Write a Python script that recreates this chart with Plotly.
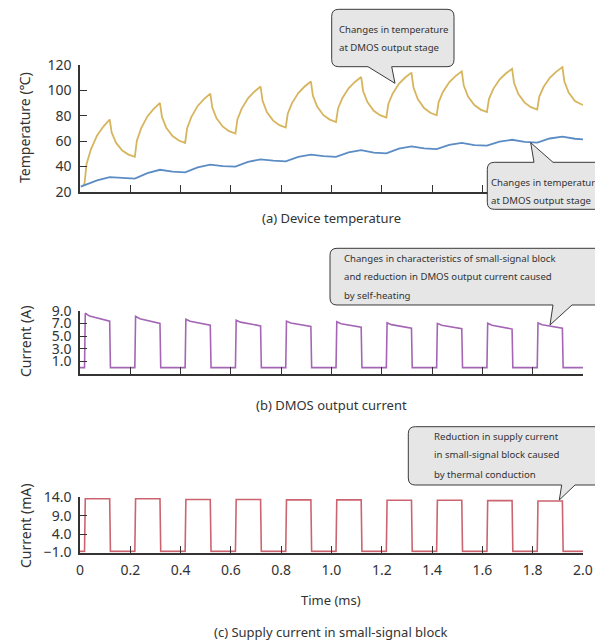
import plotly.graph_objects as go

# page is placed with an 8px body margin; the figure fills the rest of the 603x642 window
OFF = 8
W, H = 603 - OFF, 642 - OFF
FONT = "Noto Sans"
INK = "#333333"

# ---------------- data ----------------
# (a) device temperature (deg C) vs time (ms)
dmos_time = [0.013,
    0.018, 0.026, 0.043, 0.068, 0.093, 0.118, 0.126, 0.143, 0.168, 0.193,
    0.218, 0.226, 0.243, 0.268, 0.293, 0.318, 0.326, 0.343, 0.368, 0.393,
    0.418, 0.426, 0.443, 0.468, 0.493, 0.518, 0.526, 0.543, 0.568, 0.593,
    0.618, 0.626, 0.643, 0.668, 0.693, 0.718, 0.726, 0.743, 0.768, 0.793,
    0.818, 0.826, 0.843, 0.868, 0.893, 0.918, 0.926, 0.943, 0.968, 0.993,
    1.018, 1.026, 1.043, 1.068, 1.093, 1.118, 1.126, 1.143, 1.168, 1.193,
    1.218, 1.226, 1.243, 1.268, 1.293, 1.318, 1.326, 1.343, 1.368, 1.393,
    1.418, 1.426, 1.443, 1.468, 1.493, 1.518, 1.526, 1.543, 1.568, 1.593,
    1.618, 1.626, 1.643, 1.668, 1.693, 1.718, 1.726, 1.743, 1.768, 1.793,
    1.818, 1.826, 1.843, 1.868, 1.893, 1.918, 1.926, 1.943, 1.968, 1.993, 2.0]
dmos_temp = [25.3,
    26.5, 41.7, 53.3, 64.4, 71.4, 77.0, 66.7, 58.7, 52.5, 49.3,
    47.5, 60.3, 70.0, 79.4, 85.3, 90.0, 79.0, 70.5, 63.9, 60.4,
    58.5, 70.2, 79.1, 87.7, 93.1, 97.4, 86.4, 77.9, 71.3, 67.8,
    65.9, 77.0, 85.6, 93.7, 98.9, 103.0, 91.7, 82.9, 76.1, 72.5,
    70.6, 81.5, 89.9, 97.9, 103.0, 107.0, 95.8, 87.2, 80.4, 76.9,
    75.0, 85.7, 93.8, 101.6, 106.6, 110.5, 99.3, 90.7, 83.9, 80.4,
    78.5, 89.2, 97.3, 105.1, 110.1, 114.0, 102.2, 93.1, 86.0, 82.3,
    80.3, 90.7, 98.7, 106.3, 111.2, 115.0, 103.8, 95.1, 88.4, 84.8,
    82.9, 93.1, 101.0, 108.5, 113.3, 117.0, 105.7, 97.0, 90.3, 86.7,
    84.8, 94.9, 102.6, 109.9, 114.6, 118.3, 107.0, 98.3, 91.5, 89.0, 88.5]

small_time = [0.003, 0.018, 0.068, 0.118, 0.168, 0.218, 0.268, 0.318, 0.368, 0.418,
    0.468, 0.518, 0.568, 0.618, 0.668, 0.718, 0.768, 0.818, 0.868, 0.918,
    0.968, 1.018, 1.068, 1.118, 1.168, 1.218, 1.268, 1.318, 1.368, 1.418,
    1.468, 1.518, 1.568, 1.618, 1.668, 1.718, 1.768, 1.818, 1.868, 1.918,
    1.968, 2.0]
small_temp = [24.0, 25.3, 29.0, 31.5, 30.7, 30.3, 34.6, 37.3, 35.8, 35.3,
    39.2, 41.3, 40.2, 39.8, 43.6, 45.5, 44.5, 44.0, 47.5, 49.3,
    48.0, 47.5, 51.0, 52.8, 50.9, 50.3, 54.0, 55.8, 54.2, 53.6,
    57.0, 58.5, 56.8, 56.3, 59.6, 61.0, 59.3, 58.7, 62.0, 63.5,
    61.8, 61.3]

# pulse timing (ms)
pulse_rise = [0.018, 0.218, 0.418, 0.618, 0.818, 1.018, 1.218, 1.418, 1.618, 1.818]
pulse_fall = [0.118, 0.318, 0.518, 0.718, 0.918, 1.118, 1.318, 1.518, 1.718, 1.918]

# (b) DMOS output current (A)
dmos_low = 0.0
dmos_start = [8.6, 8.1, 7.65, 7.5, 7.35, 7.25, 7.1, 7.0, 7.0, 7.05]
dmos_knee = [8.15, 7.72, 7.32, 7.19, 7.05, 6.95, 6.8, 6.7, 6.69, 6.77]
dmos_end = [7.35, 7.0, 6.7, 6.6, 6.5, 6.4, 6.25, 6.15, 6.1, 6.25]

# (c) supply current in small-signal block (mA)
supply_low = -0.7
supply_high = [13.6, 13.6, 13.4, 13.4, 13.3, 13.3, 13.2, 13.2, 13.1, 13.0]

x_ticks = [0, 0.2, 0.4, 0.6, 0.8, 1.0, 1.2, 1.4, 1.6, 1.8, 2.0]
x_ticktext = ["0", "0.2", "0.4", "0.6", "0.8", "1.0", "1.2", "1.4", "1.6", "1.8", "2.0"]
temp_ticks = [20, 40, 60, 80, 100, 120]
amp_ticks = [1, 3, 5, 7, 9]
ma_ticks = [-1, 4, 9, 14]

# ---------------- build square-wave traces ----------------
EDGE = 0.003
bx, by = [0.0], [dmos_low]
for r, f, s, k, e in zip(pulse_rise, pulse_fall, dmos_start, dmos_knee, dmos_end):
    bx += [r, r + EDGE, r + 0.02, f, f + EDGE]
    by += [dmos_low, s, k, e, dmos_low]
bx.append(2.0); by.append(dmos_low)

cx, cy = [0.0], [supply_low]
for r, f, hgt in zip(pulse_rise, pulse_fall, supply_high):
    cx += [r, r + EDGE, f, f + EDGE]
    cy += [supply_low, hgt, hgt, supply_low]
cx.append(2.0); cy.append(supply_low)


def px(x):
    return (x - OFF) / W


def py(y):
    return 1 - (y - OFF) / H


fig = go.Figure()
fig.add_trace(go.Scatter(x=dmos_time, y=dmos_temp, mode="lines",
                         line=dict(color="#d6b55e", width=1.8), xaxis="x", yaxis="y"))
fig.add_trace(go.Scatter(x=small_time, y=small_temp, mode="lines",
                         line=dict(color="#5b8cc4", width=1.8), xaxis="x", yaxis="y"))
fig.add_trace(go.Scatter(x=bx, y=by, mode="lines",
                         line=dict(color="#a466b4", width=1.6), xaxis="x2", yaxis="y2"))
fig.add_trace(go.Scatter(x=cx, y=cy, mode="lines",
                         line=dict(color="#cc6470", width=1.6), xaxis="x3", yaxis="y3"))

XD = [px(80), px(583)]
axis_common = dict(showline=True, linecolor=INK, linewidth=1.5, ticks="inside",
                   ticklen=7, tickwidth=1.2, tickcolor=INK, showgrid=False,
                   zeroline=False, automargin=False,
                   tickfont=dict(family=FONT, size=14, color=INK))

fig.update_layout(
    width=W, height=H, margin=dict(l=0, r=0, t=0, b=0, autoexpand=False),
    paper_bgcolor="white", plot_bgcolor="white", showlegend=False,
    font=dict(family=FONT, color=INK),
    xaxis=dict(domain=XD, anchor="y", range=[0, 2], tickvals=x_ticks[1:],
               showticklabels=False, **axis_common),
    yaxis=dict(domain=[py(191.7), py(65)], anchor="x", range=[20, 120],
               tickvals=temp_ticks, ticklabelstandoff=4, **axis_common),
    xaxis2=dict(domain=XD, anchor="y2", range=[0, 2], tickvals=x_ticks[1:],
                showticklabels=False, **axis_common),
    yaxis2=dict(domain=[py(374), py(310.7)], anchor="x2", range=[-1, 9],
                tickvals=amp_ticks, tickformat=".1f", ticklabelstandoff=4, **axis_common),
    xaxis3=dict(domain=XD, anchor="y3", range=[0, 2], tickvals=x_ticks,
                ticktext=x_ticktext, ticklabelstandoff=4, **axis_common),
    yaxis3=dict(domain=[py(552.5), py(497.3)], anchor="x3", range=[-1, 14],
                tickvals=ma_ticks, tickformat=".1f", ticklabelstandoff=4, **axis_common),
)

annotations = []


def label(text, x, y, size, angle=0, xanchor="center"):
    annotations.append(dict(text=text, x=px(x), y=py(y), xref="paper", yref="paper",
                            showarrow=False, xanchor=xanchor, yanchor="middle",
                            textangle=angle, font=dict(family=FONT, size=size, color=INK)))


label("Temperature (℃)", 25, 128, 14, -90)
label("Current (A)", 25, 342, 14, -90)
label("Current (mA)", 25, 526, 14, -90)
label("(a) Device temperature", 331, 218, 13)
label("(b) DMOS output current", 331, 405, 13)
label("Time (ms)", 331, 600, 13)
label("(c) Supply current in small-signal block", 331, 632, 13)


def callout_path(x0, y0, x1, y1, r, side, a, b, tx, ty):
    P = lambda x, y: f"{px(x):.5f},{py(y):.5f}"
    d = f"M {P(x0 + r, y0)} "
    if side == "top":
        d += f"L {P(a, y0)} L {P(tx, ty)} L {P(b, y0)} "
    d += f"L {P(x1 - r, y0)} Q {P(x1, y0)} {P(x1, y0 + r)} "
    d += f"L {P(x1, y1 - r)} Q {P(x1, y1)} {P(x1 - r, y1)} "
    if side == "bottom":
        d += f"L {P(b, y1)} L {P(tx, ty)} L {P(a, y1)} "
    d += f"L {P(x0 + r, y1)} Q {P(x0, y1)} {P(x0, y1 - r)} "
    d += f"L {P(x0, y0 + r)} Q {P(x0, y0)} {P(x0 + r, y0)} Z"
    return d


callouts = [
    (331.7, 9.3, 454, 66.7, "bottom", 368, 391.7, 395, 83.3,
     ["Changes in temperature", "at DMOS output stage"], 336.7, [29.3, 47.7]),
    (487.3, 162.3, 602.3, 209.3, "top", 534, 553, 530.7, 142.7,
     ["Changes in temperature", "at DMOS output stage"], 488.5, [182.7, 200]),
    (330, 248.3, 602.3, 305, "bottom", 553, 572, 550, 325,
     ["Changes in characteristics of small-signal block",
      "and reduction in DMOS output current caused", "by self-heating"],
     341.7, [258.3, 276.7, 295]),
    (408.3, 426.7, 602.3, 485, "bottom", 561.7, 575, 559.3, 500,
     ["Reduction in supply current", "in small-signal block caused",
      "by thermal conduction"], 431.7, [436.7, 455, 474]),
]

shapes = []
for (x0, y0, x1, y1, side, a, b, tx, ty, lines, lx, lys) in callouts:
    shapes.append(dict(type="path", xref="paper", yref="paper",
                       path=callout_path(x0, y0, x1, y1, 7, side, a, b, tx, ty),
                       fillcolor="#e6e6e6", line=dict(color="#3a3a3a", width=1)))
    for t, ly in zip(lines, lys):
        label(t, lx, ly, 9.6, 0, "left")

fig.update_layout(shapes=shapes, annotations=annotations)
fig.write_html("out.html")
